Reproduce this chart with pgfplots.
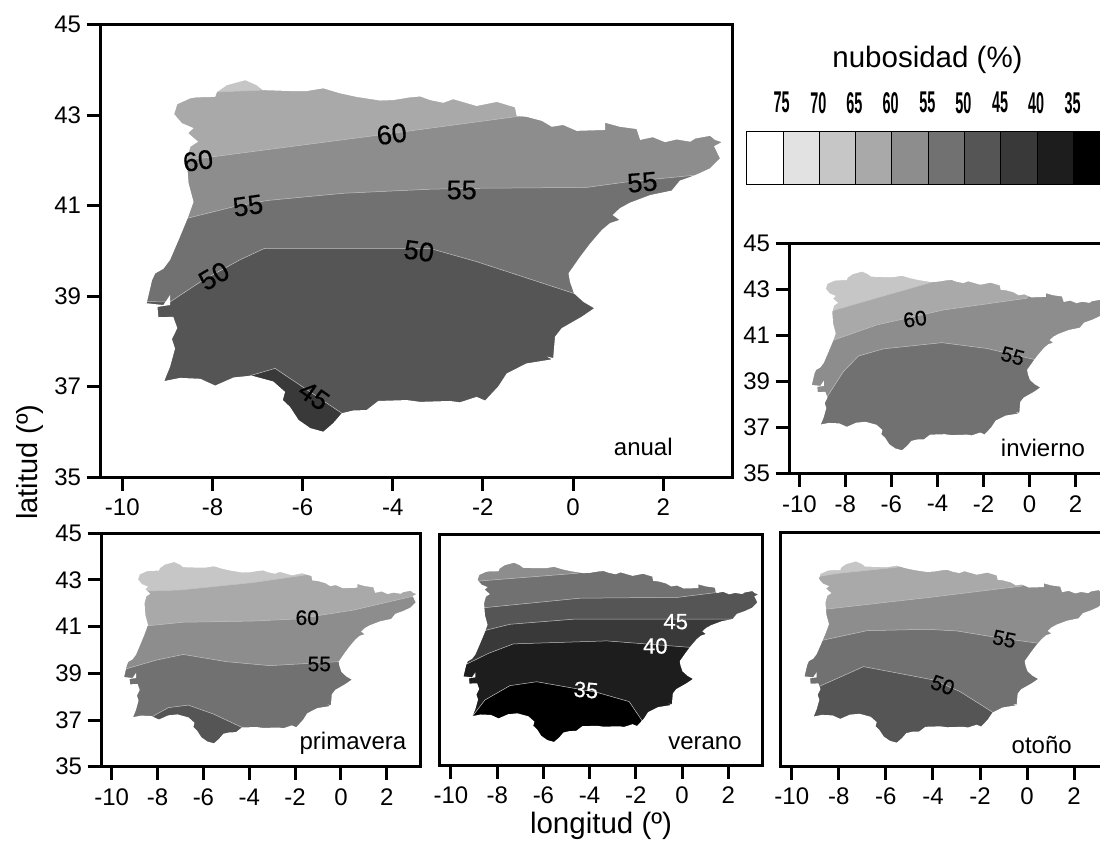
\documentclass[border=0pt]{standalone}
\usepackage{pgfplots}
\usepackage{pgfplotstable}
\usepackage{fontspec}
\setmainfont{Liberation Sans}
\newfontfamily\isofont[FakeBold=0.5]{Liberation Sans}
\pgfplotsset{compat=1.18}
\definecolor{g70}{HTML}{E2E2E2}
\definecolor{g65}{HTML}{C6C6C6}
\definecolor{g60}{HTML}{A9A9A9}
\definecolor{g55}{HTML}{8D8D8D}
\definecolor{g50}{HTML}{717171}
\definecolor{g45}{HTML}{555555}
\definecolor{g40}{HTML}{393939}
\definecolor{g35}{HTML}{1D1D1D}
\definecolor{g30}{HTML}{000000}
\definecolor{isoline}{HTML}{C4C4C4}
% Outer frame (anticlockwise) joined to the coast of Iberia (clockwise): white outside the land
\pgfplotstableread{
lon lat
-15 50
-15 30
8 30
8 50
-15 50
-8.85 43.02
-8.78 43.24
-8.49 43.37
-8.36 43.39
-7.94 43.40
-7.90 43.51
-7.68 43.66
-7.27 43.77
-7.02 43.66
-6.88 43.55
-6.28 43.53
-5.91 43.53
-5.54 43.59
-5.17 43.48
-4.80 43.40
-4.28 43.32
-3.99 43.33
-3.62 43.39
-3.39 43.41
-3.17 43.33
-2.88 43.27
-2.66 43.35
-2.14 43.20
-1.69 43.29
-1.29 43.17
-1.25 42.98
-1.03 42.96
-0.69 42.87
-0.47 42.74
-0.22 42.78
0.08 42.65
0.71 42.67
0.71 42.83
1.04 42.74
1.41 42.69
1.49 42.45
1.77 42.51
2.04 42.40
2.30 42.46
2.60 42.41
2.71 42.48
3.04 42.54
3.15 42.45
3.30 42.40
3.13 42.31
3.26 42.04
3.04 41.82
2.71 41.67
2.37 41.55
2.19 41.33
1.71 41.23
1.26 41.06
1.04 40.94
0.88 40.79
1.03 40.68
0.82 40.61
0.64 40.46
0.38 40.16
0.16 39.87
-0.10 39.50
-0.07 39.32
0.02 39.06
0.23 38.87
0.47 38.73
0.19 38.54
-0.25 38.29
-0.40 38.10
-0.44 37.63
-0.58 37.66
-0.47 37.60
-1.03 37.51
-1.47 37.29
-1.66 37.00
-1.95 36.69
-2.14 36.77
-2.51 36.65
-2.73 36.68
-3.39 36.66
-3.69 36.70
-4.32 36.68
-4.58 36.48
-4.87 36.47
-5.13 36.41
-5.32 36.19
-5.54 36.00
-5.83 36.08
-6.09 36.26
-6.28 36.55
-6.44 36.70
-6.39 36.88
-6.65 37.11
-7.13 37.24
-7.53 37.20
-7.94 37.02
-8.27 37.17
-8.72 37.19
-9.07 37.12
-8.94 37.44
-8.83 37.84
-8.90 38.05
-8.78 38.29
-8.87 38.54
-9.20 38.53
-9.22 38.76
-8.94 38.80
-8.94 39.02
-9.09 38.80
-9.46 38.84
-9.34 39.35
-9.27 39.50
-9.09 39.60
-8.94 39.80
-8.75 40.24
-8.55 40.72
-8.42 41.08
-8.53 41.49
-8.57 42.01
-8.49 42.30
-8.32 42.41
-8.54 42.60
-8.42 42.71
-8.68 42.82
-8.85 43.02
-15 50
}\coast
\newcommand{\base}[1]{\addplot[fill=#1,draw=none] coordinates {(-15,30)(8,30)(8,50)(-15,50)} -- cycle;}
\newcommand{\band}[2]{\addplot[fill=#1,draw=isoline,line width=0.5pt] coordinates {#2 (8,50)(8,30)(-15,30)} -- cycle;}
\newcommand{\lowband}[2]{\addplot[fill=#1,draw=isoline,line width=0.5pt] coordinates {#2 (8,30)(-15,30)} -- cycle;}
\newcommand{\landmask}{\addplot[fill=white,draw=none] table[x=lon,y=lat] {\coast};}
\newcommand{\cl}[6][black]{\node[rotate=#4,inner sep=0pt,text=#1,font=\fontsize{#5}{#5}\selectfont] at (#2pt,-#3pt) {#6};}
\newcommand{\iso}[6][black]{\node[rotate=#4,inner sep=0pt,text=#1,font=\isofont\fontsize{#5}{#5}\selectfont] at (#2pt,-#3pt) {#6};}
\pgfplotsset{panel/.style={
  scale only axis, anchor=north west, axis on top,
  ymin=35, ymax=45,
  axis line style={line width=3pt},
  tick style={black,line width=3pt},
  major tick length=13.5pt, tick align=outside,
  xtick pos=bottom, ytick pos=left,
  xtick={-10,-8,-6,-4,-2,0,2},
  xticklabels={-10,-8,-6,-4,-2,0,2},
  ytick={35,37,39,41,43,45},
  yticklabels={35,37,39,41,43,45},
  tick label style={font=\fontsize{24}{26}\selectfont},
  xticklabel style={yshift=-5pt},
  yticklabel style={xshift=-2pt},
}}
\begin{document}
\begin{tikzpicture}
\path[use as bounding box] (0pt,0pt) rectangle (1100pt,-841pt);
% anual
\begin{axis}[panel, at={(100pt,-24.5pt)}, width=632pt, height=452.5pt, xmin=-10.495, xmax=3.527]
\base{g65}
\band{g60}{(-9,43.45)(-7.90,43.51)(-6.88,43.55)(-6.3,43.9)}
\band{g55}{(-9.5,41.9)(-8.58,42.00)(-4.28,42.56)(-1.29,42.96)(4,43.65)}
\band{g50}{(-9.6,40.4)(-8.55,40.72)(-7.54,40.97)(-6.79,41.11)(-5.10,41.27)(-3.17,41.36)(-2.22,41.38)(0.30,41.40)(1.26,41.53)(2.71,41.67)(4,41.85)}
\band{g45}{(-10,38.88)(-8.94,38.87)(-8.21,39.35)(-7.39,39.80)(-6.85,40.05)(-3.17,40.05)(-2.14,39.76)(0.01,39.06)(2,38.4)}
\addplot[fill=g40,draw=isoline,line width=0.5pt] coordinates {(-7.5,37.1)(-7.13,37.25)(-6.61,37.40)(-5.13,36.41)(-4.9,36.2)(-4.9,35)(-7.5,35)} -- cycle;
\landmask
\end{axis}
% invierno
\begin{axis}[panel, at={(789pt,-243.3pt)}, width=321pt, height=230pt, xmin=-10.45, xmax=3.5]
\base{g65}
\band{g60}{(-9.5,41.8)(-8.59,42.06)(-6.20,42.75)(-4.17,43.33)(-3,43.6)}
\band{g55}{(-9.6,40.2)(-8.49,40.80)(-6.64,41.45)(-3.74,42.10)(-0.12,42.61)(0.3,43.2)(4,43.5)}
\band{g50}{(-9.4,37.4)(-8.74,38.41)(-8.09,39.42)(-7.43,40.10)(-6.35,40.41)(-3.81,40.68)(-1.86,40.43)(0.17,39.96)(2,39.4)}
\landmask
\end{axis}
% primavera
\begin{axis}[panel, at={(101pt,-533.3pt)}, width=319.7pt, height=233.4pt, xmin=-10.467, xmax=3.477]
\base{g65}
\band{g60}{(-9.5,42.5)(-8.33,42.53)(-7.03,42.57)(-3.83,42.89)(-1.72,43.19)(0,43.5)}
\band{g55}{(-9.5,40.9)(-8.41,41.04)(-6.88,41.19)(-3.83,41.24)(-1.93,41.33)(0.54,41.71)(3.08,42.29)(4,42.5)}
\band{g50}{(-10,39.0)(-9.32,39.21)(-8.04,39.57)(-6.88,39.81)(-4.99,39.50)(-3.10,39.33)(-0.12,39.50)(2,39.7)}
\addplot[fill=g45,draw=isoline,line width=0.5pt] coordinates {(-8.4,36.9)(-8.19,37.17)(-7.53,37.53)(-6.66,37.64)(-5.57,37.26)(-4.33,36.69)(-4.1,36.4)(-4.1,35)(-8.4,35)} -- cycle;
\landmask
\end{axis}
% verano
\begin{axis}[panel, at={(439.3pt,-534.3pt)}, width=323.4pt, height=230.7pt, xmin=-10.506, xmax=3.49, ytick=\empty]
\base{g55}
\band{g50}{(-9.5,42.9)(-8.60,42.99)(-4.56,43.31)(-3,43.6)}
\band{g45}{(-9.5,41.7)(-8.56,41.82)(-4.42,42.23)(-0.16,42.27)(1.43,42.47)(1.6,43)(4,43.2)}
\band{g40}{(-9.5,40.5)(-8.46,40.85)(-7.45,41.10)(-4.70,41.32)(-0.81,41.32)(2.22,41.32)(4,41.3)}
\band{g35}{(-10,39.1)(-9.25,39.41)(-8.38,39.84)(-7.30,40.25)(-3.26,40.38)(0.35,40.10)(2,39.9)}
\addplot[fill=g30,draw=isoline,line width=0.5pt] coordinates {(-9.5,36.6)(-9.03,37.17)(-8.53,37.82)(-7.45,38.44)(-6.29,38.61)(-3.69,38.15)(-2.29,37.75)(-1.75,36.95)(-1.5,36.3)(-1.5,35)(-9.5,35)} -- cycle;
\landmask
\end{axis}
% otono
\begin{axis}[panel, at={(780pt,-532.7pt)}, width=329.4pt, height=233.3pt, xmin=-10.5, xmax=3.5, ytick=\empty]
\base{g65}
\band{g60}{(-9,43.1)(-8.01,43.26)(-5.61,43.51)(-4,43.8)}
\band{g55}{(-9.5,41.6)(-8.48,41.73)(-4.12,42.23)(-0.23,42.71)(0.5,43.3)(4,43.5)}
\band{g50}{(-9.6,40.2)(-8.65,40.40)(-6.81,40.80)(-4.26,40.86)(-2.99,40.79)(-1.29,40.51)(0.48,40.26)(2.5,40.0)}
\lowband{g45}{(-10,37.9)(-8.79,38.43)(-6.95,39.26)(-3.98,38.69)(-2.85,38.19)(-1.50,37.33)(-0.5,36.6)}
\landmask
\end{axis}
% colour key
\begin{axis}[scale only axis, anchor=north west, at={(746.7pt,-131.7pt)}, width=363pt, height=52.3pt,
  xmin=0, xmax=10, ymin=0, ymax=1, axis lines=none, clip=false]
\addplot[fill=white,draw=black,line width=0.9pt] coordinates {(0,0)(1,0)(1,1)(0,1)} -- cycle;
\addplot[fill=g70,draw=black,line width=0.9pt] coordinates {(1,0)(2,0)(2,1)(1,1)} -- cycle;
\addplot[fill=g65,draw=black,line width=0.9pt] coordinates {(2,0)(3,0)(3,1)(2,1)} -- cycle;
\addplot[fill=g60,draw=black,line width=0.9pt] coordinates {(3,0)(4,0)(4,1)(3,1)} -- cycle;
\addplot[fill=g55,draw=black,line width=0.9pt] coordinates {(4,0)(5,0)(5,1)(4,1)} -- cycle;
\addplot[fill=g50,draw=black,line width=0.9pt] coordinates {(5,0)(6,0)(6,1)(5,1)} -- cycle;
\addplot[fill=g45,draw=black,line width=0.9pt] coordinates {(6,0)(7,0)(7,1)(6,1)} -- cycle;
\addplot[fill=g40,draw=black,line width=0.9pt] coordinates {(7,0)(8,0)(8,1)(7,1)} -- cycle;
\addplot[fill=g35,draw=black,line width=0.9pt] coordinates {(8,0)(9,0)(9,1)(8,1)} -- cycle;
\addplot[fill=g30,draw=black,line width=0.9pt] coordinates {(9,0)(10,0)(10,1)(9,1)} -- cycle;
\end{axis}
% key text
\cl{927.5}{60}{0}{29.5}{nubosidad (\%)}
\foreach \x/\t in {781.7/75,818.3/70,854.3/65,890.7/60,927.3/55,963.3/50,1000/45,1036/40,1072.7/35}{
  \node[inner sep=0pt,xscale=0.48,font=\fontsize{30}{30}\selectfont\bfseries] at (\x pt,-102.7pt) {\t};
}
% axis titles
\cl{601}{826}{0}{29.5}{longitud (º)}
\cl{30}{462}{90}{29}{latitud (º)}
% panel names
\cl{643.3}{446.7}{0}{24}{anual}
\cl{1043}{448}{0}{24}{invierno}
\cl{353}{743}{0}{24}{primavera}
\cl{705}{742.7}{0}{24}{verano}
\cl{1041.7}{745}{0}{24}{otoño}
% isoline numbers
\iso{391.7}{134}{8}{27}{60}
\iso{198}{160.7}{8}{27}{60}
\iso{248}{205.7}{8}{27}{55}
\iso{461.7}{190}{0}{27}{55}
\iso{642.3}{182.3}{5}{27}{55}
\iso{419}{251}{-8}{27}{50}
\iso{214}{276}{30}{27}{50}
\iso{314}{395.7}{-35}{27}{45}
\iso{915}{319}{8}{21}{60}
\iso{1012.7}{356}{-15}{21}{55}
\iso{307.3}{617.7}{0}{21}{60}
\iso{319.3}{664}{0}{21}{55}
\iso[white]{675.7}{621.7}{0}{22}{45}
\iso[white]{655.3}{646}{0}{22}{40}
\iso[white]{586}{690}{-5}{22}{35}
\iso{1004.3}{639}{-12}{21}{55}
\iso{942.7}{685}{-20}{21}{50}
\end{tikzpicture}
\end{document}
